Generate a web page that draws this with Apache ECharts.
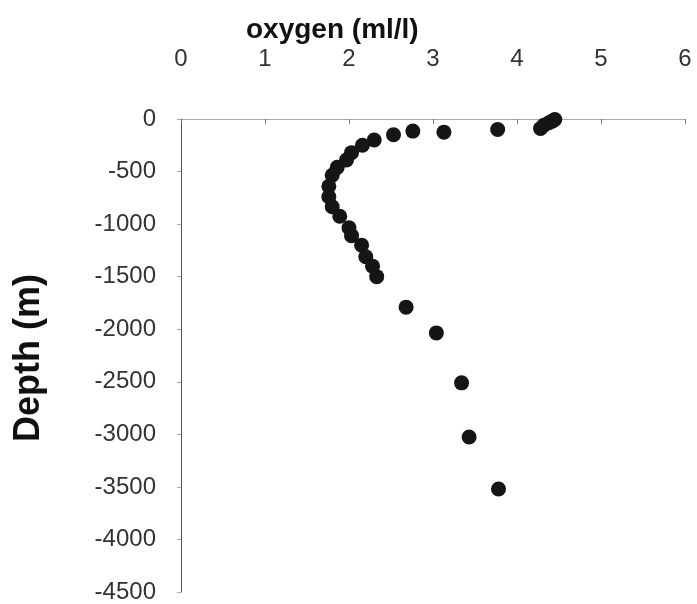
<!DOCTYPE html>
<html>
<head>
<meta charset="utf-8">
<script src="https://cdn.jsdelivr.net/npm/echarts@6/dist/echarts.min.js"></script>
<style>
  html, body { margin: 0; padding: 0; background: #fff; }
  #chart { width: 697px; height: 604px; }
</style>
</head>
<body>
<div id="chart"></div>
<script>
// oxygen profile
const oxygen = [4.45, 4.42, 4.38, 4.32, 4.28, 3.77, 3.13, 2.76, 2.53, 2.30, 2.16, 2.03, 1.97, 1.86, 1.80,
  1.76, 1.76, 1.80, 1.89, 2.00, 2.03, 2.15, 2.20, 2.28, 2.33, 2.68, 3.04, 3.34, 3.43, 3.78];
const depth = [-5, -20, -35, -60, -90, -100, -125, -115, -150, -200, -250, -320, -390, -460, -535,
  -640, -740, -835, -925, -1035, -1110, -1200, -1310, -1400, -1500, -1790, -2035, -2510, -3025, -3520];
const xTicks = [0, 1, 2, 3, 4, 5, 6];

const font = 'Liberation Sans, Arial, sans-serif';
const chart = echarts.init(document.getElementById('chart'));
chart.setOption({
  animation: false,
  grid: { left: 181, top: 119, right: 12, bottom: 12 },
  graphic: [
    { type: 'text', x: 246, y: 30,
      style: { text: 'oxygen (ml/l)', font: 'bold 28px ' + font, fill: '#111', verticalAlign: 'middle' } },
    { type: 'text', x: 29, y: 358, rotation: Math.PI / 2,
      style: { text: 'Depth (m)', font: 'bold 36px ' + font, fill: '#111', align: 'center', verticalAlign: 'middle' } }
  ],
  xAxis: {
    type: 'value', position: 'top', min: xTicks[0], max: xTicks[xTicks.length - 1], interval: 1,
    axisLine: { lineStyle: { color: '#aaa', width: 1 } },
    axisTick: { show: true, inside: true, length: 5, lineStyle: { color: '#777' } },
    splitLine: { show: false },
    axisLabel: { margin: 48, fontSize: 24, color: '#333', fontFamily: font }
  },
  yAxis: {
    type: 'value', min: -4500, max: 0, interval: 500,
    axisLine: { show: true, onZero: false, lineStyle: { color: '#555', width: 1 } },
    axisTick: { show: true, length: 4, lineStyle: { color: '#aaa' } },
    splitLine: { show: false },
    axisLabel: { margin: 25, fontSize: 24, color: '#333', fontFamily: font, formatter: v => String(v) }
  },
  series: [{
    type: 'scatter',
    symbolSize: 15,
    itemStyle: { color: '#151515', opacity: 1 },
    data: oxygen.map((v, i) => [v, depth[i]])
  }]
});
</script>
</body>
</html>
